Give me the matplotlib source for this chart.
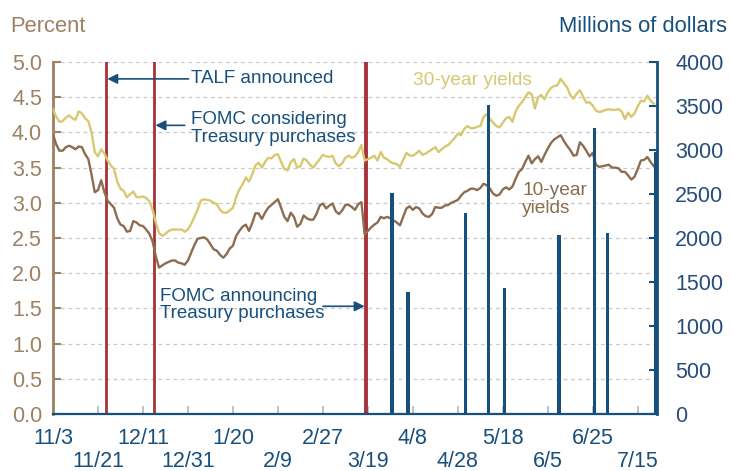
import numpy as np
import pandas as pd
import matplotlib
matplotlib.use('Agg')
import matplotlib.pyplot as plt

plt.rcParams['font.family'] = ['Liberation Sans', 'DejaVu Sans']

# business days, Nov 3 2008 to Jul 22 2009
dates = pd.bdate_range('2008-11-03', periods=188)

yield_30 = [4.33, 4.22, 4.15, 4.16, 4.21, 4.24, 4.20, 4.18, 4.30, 4.27, 4.20, 4.16, 4.00, 3.72, 3.66, 3.76,
            3.70, 3.60, 3.53, 3.48, 3.30, 3.20, 3.17, 3.08, 3.12, 3.16, 3.08, 3.08, 3.09, 3.07, 3.02, 2.90,
            2.72, 2.57, 2.53, 2.56, 2.60, 2.62, 2.62, 2.62, 2.62, 2.59, 2.62, 2.70, 2.80, 2.90, 3.03, 3.05,
            3.04, 3.03, 3.00, 2.98, 2.90, 2.86, 2.86, 2.89, 2.93, 3.08, 3.19, 3.26, 3.36, 3.30, 3.40,
            3.53, 3.57, 3.50, 3.58, 3.64, 3.63, 3.68, 3.69, 3.58, 3.48, 3.46, 3.58, 3.62, 3.50, 3.52, 3.63,
            3.60, 3.54, 3.50, 3.56, 3.62, 3.68, 3.66, 3.65, 3.67, 3.56, 3.52, 3.56, 3.64, 3.67, 3.64, 3.66,
            3.72, 3.82, 3.60, 3.62, 3.64, 3.67, 3.60, 3.72, 3.64, 3.62, 3.58, 3.56, 3.55, 3.51, 3.61, 3.71,
            3.67, 3.67, 3.70, 3.74, 3.68, 3.70, 3.73, 3.76, 3.79, 3.72, 3.76, 3.80, 3.82, 3.87, 3.92,
            3.98, 3.96, 4.05, 4.09, 4.06, 4.06, 4.08, 4.09, 4.22, 4.26, 4.19, 4.14, 4.09, 4.07, 4.14, 4.20,
            4.22, 4.15, 4.30, 4.38, 4.43, 4.50, 4.57, 4.54, 4.34, 4.50, 4.53, 4.47, 4.57, 4.63, 4.66,
            4.67, 4.76, 4.70, 4.64, 4.53, 4.48, 4.55, 4.60, 4.51, 4.42, 4.43, 4.38, 4.31, 4.29, 4.30, 4.32,
            4.33, 4.32, 4.32, 4.33, 4.30, 4.19, 4.28, 4.22, 4.27, 4.37, 4.45, 4.44, 4.52, 4.45, 4.41]

yield_10 = [3.97, 3.83, 3.74, 3.74, 3.79, 3.81, 3.79, 3.76, 3.80, 3.79, 3.69, 3.62, 3.40, 3.15, 3.18, 3.32,
            3.15, 3.03, 2.98, 2.93, 2.78, 2.69, 2.67, 2.59, 2.60, 2.74, 2.72, 2.68, 2.67, 2.62, 2.56, 2.45,
            2.24, 2.08, 2.11, 2.14, 2.16, 2.18, 2.18, 2.15, 2.14, 2.12, 2.18, 2.29, 2.40, 2.49, 2.50, 2.51,
            2.48, 2.41, 2.34, 2.32, 2.26, 2.22, 2.27, 2.35, 2.39, 2.53, 2.60, 2.66, 2.69, 2.60, 2.71,
            2.85, 2.85, 2.77, 2.86, 2.93, 2.97, 3.01, 3.05, 2.93, 2.80, 2.74, 2.86, 2.80, 2.66, 2.70, 2.82,
            2.78, 2.76, 2.76, 2.84, 2.96, 2.99, 2.92, 2.96, 2.99, 2.88, 2.84, 2.89, 2.97, 2.97, 2.94, 2.90,
            2.98, 3.01, 2.55, 2.60, 2.65, 2.69, 2.72, 2.80, 2.78, 2.80, 2.78, 2.75, 2.72, 2.68, 2.80, 2.92,
            2.95, 2.90, 2.94, 2.92, 2.85, 2.81, 2.80, 2.84, 2.94, 2.93, 2.93, 2.96, 2.97, 3.00, 3.02,
            3.04, 3.10, 3.15, 3.17, 3.20, 3.20, 3.18, 3.21, 3.27, 3.25, 3.20, 3.13, 3.10, 3.12, 3.19, 3.22,
            3.19, 3.23, 3.34, 3.44, 3.48, 3.58, 3.67, 3.56, 3.62, 3.66, 3.58, 3.68, 3.77, 3.85, 3.90,
            3.93, 3.96, 3.88, 3.81, 3.75, 3.67, 3.68, 3.86, 3.81, 3.74, 3.66, 3.71, 3.54, 3.51, 3.52, 3.53,
            3.54, 3.50, 3.50, 3.49, 3.44, 3.44, 3.39, 3.33, 3.37, 3.48, 3.60, 3.61, 3.65, 3.58, 3.52]

# Treasury purchases, millions of dollars
purchase_dates = ['2009-03-30', '2009-04-06', '2009-04-30', '2009-05-11', '2009-05-18',
                  '2009-06-10', '2009-06-25', '2009-07-01', '2009-07-22']
purchase_amounts = [2510, 1390, 2280, 3510, 1430, 2030, 3250, 2060, 2980]

event_dates = ['2008-11-25', '2008-12-16', '2009-03-18']

tan = '#9c8163'
brown = '#8c6d4f'
gold = '#d8c870'
blue = '#17507d'
red = '#a8323a'

x = np.arange(len(dates))
bar_x = [dates.get_loc(pd.Timestamp(d)) + 0.5 for d in purchase_dates]
event_x = [dates.get_loc(pd.Timestamp(d)) + 0.5 for d in event_dates]

fig = plt.figure(figsize=(7.31, 4.71), dpi=100)
ax = fig.add_axes([53 / 731, 57 / 471, 604 / 731, 352 / 471])

ax.plot(x, yield_30, color=gold, lw=1.7, zorder=3)
ax.plot(x, yield_10, color=brown, lw=1.7, zorder=3)
for i, ex in enumerate(event_x):
    ax.axvline(ex, color=red, lw=2.8 if i == 2 else 2.0, zorder=2)

ax.set_xlim(0, 188)
ax.set_ylim(0, 5)
ax.set_yticks(np.arange(0, 5.01, 0.5))
ax.set_yticklabels(['%.1f' % v for v in np.arange(0, 5.01, 0.5)])
ax.yaxis.grid(True, linestyle=(0, (3, 3)), color='#c8c8c8', lw=0.9)
ax.set_axisbelow(True)

# date labels every 14 business days, alternating between two rows
ticks = x[::14]
tick_text = ['%d/%d' % (dates[t].month, dates[t].day) for t in ticks]
ax.set_xticks(ticks[::2])
ax.set_xticklabels(tick_text[::2])
ax.set_xticks(ticks[1::2], minor=True)
ax.set_xticklabels(tick_text[1::2], minor=True)

ax.tick_params(axis='y', direction='in', length=6, width=1.5, color=tan,
               labelcolor=tan, labelsize=15.5, pad=8)
ax.tick_params(axis='x', which='both', direction='in', length=6, width=1.2, color='#a9b9c9',
               labelcolor=blue, labelsize=15.5)
ax.tick_params(axis='x', which='major', pad=10)
ax.tick_params(axis='x', which='minor', pad=26.5)
for s in ['top', 'right']:
    ax.spines[s].set_visible(False)
ax.spines['left'].set_color(tan)
ax.spines['left'].set_linewidth(2)
ax.spines['bottom'].set_color(blue)
ax.spines['bottom'].set_linewidth(1.6)

ax2 = ax.twinx()
ax2.bar(bar_x, purchase_amounts, width=1.0, color=blue, zorder=4)
ax2.set_ylim(0, 4000)
ax2.set_yticks(np.arange(0, 4001, 500))
ax2.tick_params(axis='y', direction='in', length=6, width=1.5, color=blue,
                labelcolor='#264d7c', labelsize=15.5, pad=13)
for s in ['top', 'left', 'bottom']:
    ax2.spines[s].set_visible(False)
ax2.spines['right'].set_color(blue)
ax2.spines['right'].set_linewidth(2)

# annotations
arrow = dict(arrowstyle='-|>,head_length=0.5,head_width=0.25', color=blue, lw=1.2,
             shrinkA=0, shrinkB=0, mutation_scale=12)
txt = dict(color=blue, fontsize=13.5, ha='left', va='center', linespacing=1.05)

ax.text(42.8, 4.76, 'TALF announced', **txt)
ax.annotate('', xy=(event_x[0] + 0.4, 4.76), xytext=(42.2, 4.76), arrowprops=arrow)

ax.text(42.8, 4.06, 'FOMC considering\nTreasury purchases', **txt)
ax.annotate('', xy=(event_x[1] + 0.4, 4.10), xytext=(41.0, 4.10), arrowprops=arrow)

ax.text(33.3, 1.55, 'FOMC announcing\nTreasury purchases', **txt)
ax.annotate('', xy=(event_x[2] - 0.5, 1.53), xytext=(84.0, 1.53), arrowprops=arrow)

ax.text(112, 4.74, '30-year yields', color=gold, fontsize=13.8, ha='left', va='center')
ax.text(146, 3.05, '10-year\nyields', color=brown, fontsize=13.8, ha='left', va='center',
        linespacing=1.05)

fig.text(10 / 731, 1 - 32 / 471, 'Percent', color=tan, fontsize=15.8, ha='left', va='baseline')
fig.text(727 / 731, 1 - 32 / 471, 'Millions of dollars', color=blue, fontsize=15.8,
         ha='right', va='baseline')

fig.savefig('out.png', dpi=100)
